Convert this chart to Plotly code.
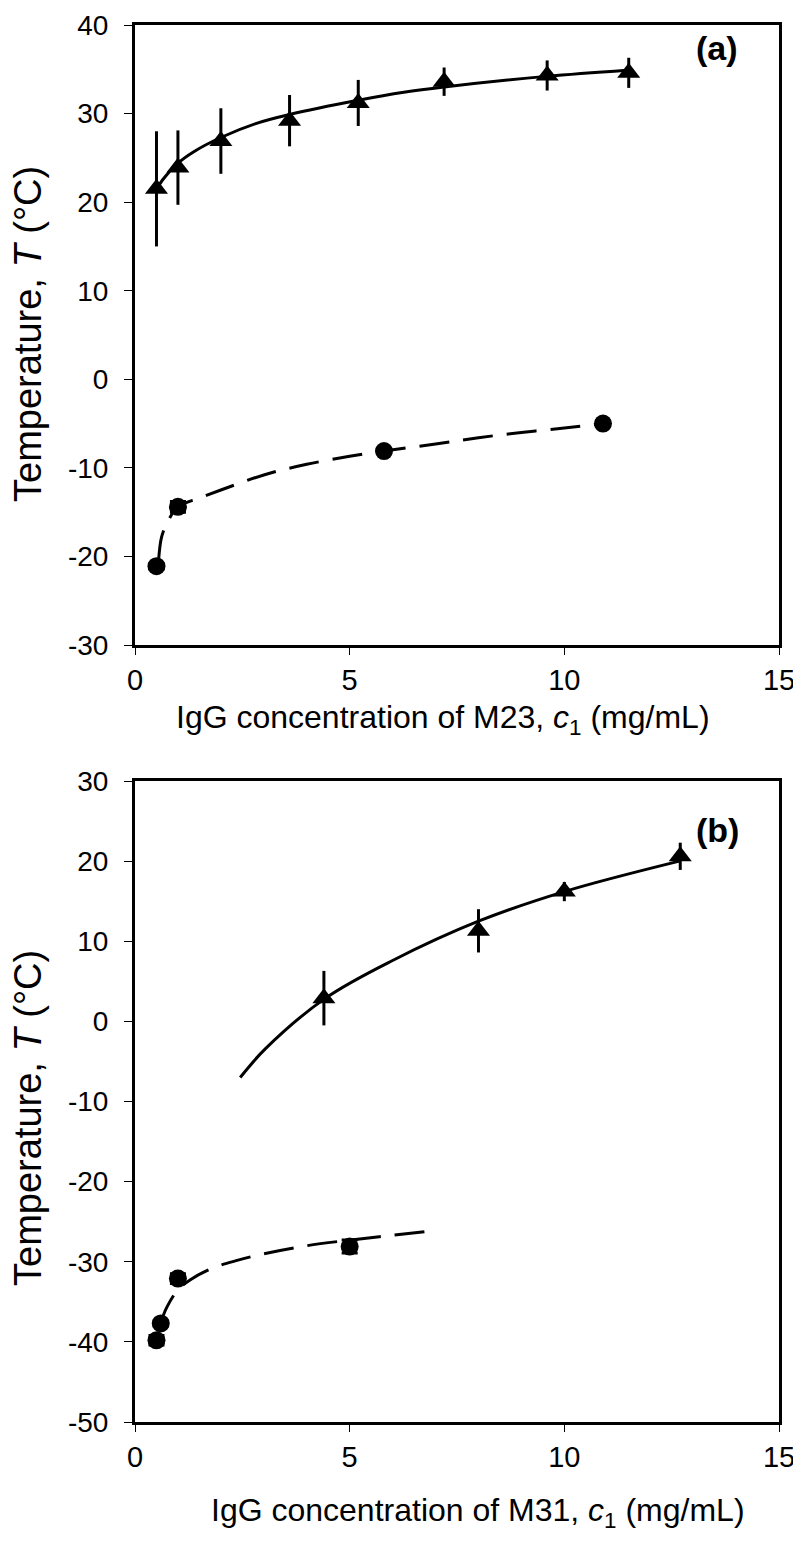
import plotly.graph_objects as go

OFF = 8  # page body margin of the browser
W, H = 801 - OFF, 1549 - 2 * OFF - 3

# ---------------- data: panel (a) M23 ----------------
a_tri_x = [0.5, 1.0, 2.0, 3.6, 5.2, 7.2, 9.6, 11.5]
a_tri_y = [21.5, 23.9, 26.9, 29.2, 31.2, 33.6, 34.3, 34.6]
a_tri_err = [6.5, 4.2, 3.7, 2.9, 2.6, 1.6, 1.7, 1.7]

a_cir_x = [0.5, 1.0, 5.8, 10.9]
a_cir_y = [-21.1, -14.4, -8.1, -5.0]
a_cir_err = [0.3, 0.6, 0.3, 0.3]

a_fit_tri_x = [0.5, 0.64, 1.0, 1.37, 2.0, 2.83, 3.6, 5.2, 6.26, 7.2, 9.58, 11.46]
a_fit_tri_y = [21.4, 22.5, 24.4, 25.7, 27.3, 28.9, 29.9, 31.5, 32.4, 33.0, 34.2, 34.9]

a_fit_cir_x = [0.55, 0.62, 0.75, 1.0, 1.5, 2.0, 3.0, 4.0, 5.0, 5.8, 7.0, 8.0, 9.0, 10.0, 10.9]
a_fit_cir_y = [-20.4, -17.8, -16.2, -14.4, -13.4, -12.5, -10.8, -9.6, -8.7, -8.1, -7.3, -6.6, -6.0, -5.5, -5.0]

# ---------------- data: panel (b) M31 ----------------
b_tri_x = [4.4, 8.0, 10.0, 12.7]
b_tri_y = [2.9, 11.3, 16.2, 20.6]
b_tri_err = [3.4, 2.7, 1.2, 1.7]

b_cir_x = [0.5, 0.6, 1.0, 5.0]
b_cir_y = [-39.8, -37.7, -32.1, -28.1]
b_cir_err = [0.6, 0.3, 0.6, 0.8]

b_fit_tri_x = [2.45, 3.04, 4.43, 6.0, 8.0, 10.0, 12.68]
b_fit_tri_y = [-7.0, -3.4, 2.87, 7.6, 12.5, 16.2, 20.0]

b_fit_cir_x = [0.6, 0.74, 1.0, 1.3, 1.8, 2.4, 3.0, 4.0, 5.0, 6.0, 7.0]
b_fit_cir_y = [-37.6, -35.7, -33.5, -32.2, -30.8, -29.8, -29.0, -28.0, -27.3, -26.7, -26.1]

x_ticks = [0, 5, 10, 15]
x_tick_text = ["0", "5", "10", "15"]
a_y_ticks = [-30, -20, -10, 0, 10, 20, 30, 40]
a_y_text = ["-30", "-20", "-10", "0", "10", "20", "30", "40"]
b_y_ticks = [-50, -40, -30, -20, -10, 0, 10, 20, 30]
b_y_text = ["-50", "-40", "-30", "-20", "-10", "0", "10", "20", "30"]

x_title_a = "IgG concentration of M23, <i>c</i><sub>1</sub> (mg/mL)"
x_title_b = "IgG concentration of M31, <i>c</i><sub>1</sub> (mg/mL)"
y_title = "Temperature, <i>T</i> (°C)"

# ---------------- figure ----------------
BLACK = "black"
fig = go.Figure()


def add_panel(xa, ya, tx, ty, terr, cx, cy, cerr, ftx, fty, fcx, fcy):
    fig.add_trace(go.Scatter(x=ftx, y=fty, mode="lines", line=dict(color=BLACK, width=3, shape="spline"),
                             xaxis=xa, yaxis=ya, showlegend=False, hoverinfo="skip"))
    fig.add_trace(go.Scatter(x=fcx, y=fcy, mode="lines",
                             line=dict(color=BLACK, width=3, dash="30px,14px", shape="spline"),
                             xaxis=xa, yaxis=ya, showlegend=False, hoverinfo="skip"))
    fig.add_trace(go.Scatter(x=tx, y=ty, mode="markers",
                             marker=dict(symbol="triangle-up", size=20, color=BLACK),
                             error_y=dict(type="data", array=terr, visible=True, color=BLACK, thickness=3, width=0),
                             xaxis=xa, yaxis=ya, showlegend=False))
    fig.add_trace(go.Scatter(x=cx, y=cy, mode="markers",
                             marker=dict(symbol="circle", size=18, color=BLACK),
                             error_y=dict(type="data", array=cerr, visible=True, color=BLACK, thickness=3, width=8),
                             xaxis=xa, yaxis=ya, showlegend=False))


add_panel("x", "y", a_tri_x, a_tri_y, a_tri_err, a_cir_x, a_cir_y, a_cir_err,
          a_fit_tri_x, a_fit_tri_y, a_fit_cir_x, a_fit_cir_y)
add_panel("x2", "y2", b_tri_x, b_tri_y, b_tri_err, b_cir_x, b_cir_y, b_cir_err,
          b_fit_tri_x, b_fit_tri_y, b_fit_cir_x, b_fit_cir_y)


def px_x(px):
    return (px - OFF) / W


def px_y(py):
    return 1 - (py - OFF) / H


xdom = [px_x(135), px_x(779)]
a_top, a_bot = 25, 645
b_top, b_bot = 781, 1422

FONT = "Liberation Sans, Arial, Helvetica, sans-serif"

common_x = dict(range=[0, 15], tickvals=x_ticks, ticktext=x_tick_text, showline=True, linecolor=BLACK,
                linewidth=3, mirror=True, automargin=False,
                ticks="outside", ticklen=7, tickwidth=1, tickcolor=BLACK, showgrid=False, zeroline=False,
                tickfont=dict(family=FONT, size=29, color=BLACK), ticklabelstandoff=0, domain=xdom)
common_y = dict(showline=True, linecolor=BLACK, linewidth=3, mirror=True, automargin=False,
                ticks="outside", ticklen=8, tickwidth=1, tickcolor=BLACK, showgrid=False, zeroline=False,
                ticklabelstandoff=10, tickfont=dict(family=FONT, size=28, color=BLACK))

fig.update_layout(
    template="none",
    width=W, height=H, autosize=False,
    margin=dict(l=0, r=0, t=0, b=0, pad=0),
    paper_bgcolor="white", plot_bgcolor="white",
    xaxis=dict(common_x, anchor="y"),
    yaxis=dict(common_y, range=[-30, 40], tickvals=a_y_ticks, ticktext=a_y_text, anchor="x",
               domain=[px_y(a_bot), px_y(a_top)]),
    xaxis2=dict(common_x, anchor="y2"),
    yaxis2=dict(common_y, range=[-50, 30], tickvals=b_y_ticks, ticktext=b_y_text, anchor="x2",
                domain=[px_y(b_bot), px_y(b_top)]),
)

ann = []
ann.append(dict(text=x_title_a, x=px_x(443), y=px_y(719), xref="paper", yref="paper", showarrow=False,
                font=dict(family=FONT, size=32, color=BLACK), xanchor="center", yanchor="middle"))
ann.append(dict(text=x_title_b, x=px_x(478), y=px_y(1512), xref="paper", yref="paper", showarrow=False,
                font=dict(family=FONT, size=32, color=BLACK), xanchor="center", yanchor="middle"))
ann.append(dict(text=y_title, x=px_x(28), y=px_y(334), xref="paper", yref="paper", showarrow=False, textangle=-90,
                font=dict(family=FONT, size=38, color=BLACK), xanchor="center", yanchor="middle"))
ann.append(dict(text=y_title, x=px_x(28), y=px_y(1118), xref="paper", yref="paper", showarrow=False, textangle=-90,
                font=dict(family=FONT, size=38, color=BLACK), xanchor="center", yanchor="middle"))
ann.append(dict(text="<b>(a)</b>", x=px_x(717), y=px_y(48), xref="paper", yref="paper", showarrow=False,
                font=dict(family=FONT, size=34, color=BLACK), xanchor="center", yanchor="middle"))
ann.append(dict(text="<b>(b)</b>", x=px_x(717), y=px_y(830), xref="paper", yref="paper", showarrow=False,
                font=dict(family=FONT, size=34, color=BLACK), xanchor="center", yanchor="middle"))
fig.update_layout(annotations=ann)

fig.write_html("out.html")
